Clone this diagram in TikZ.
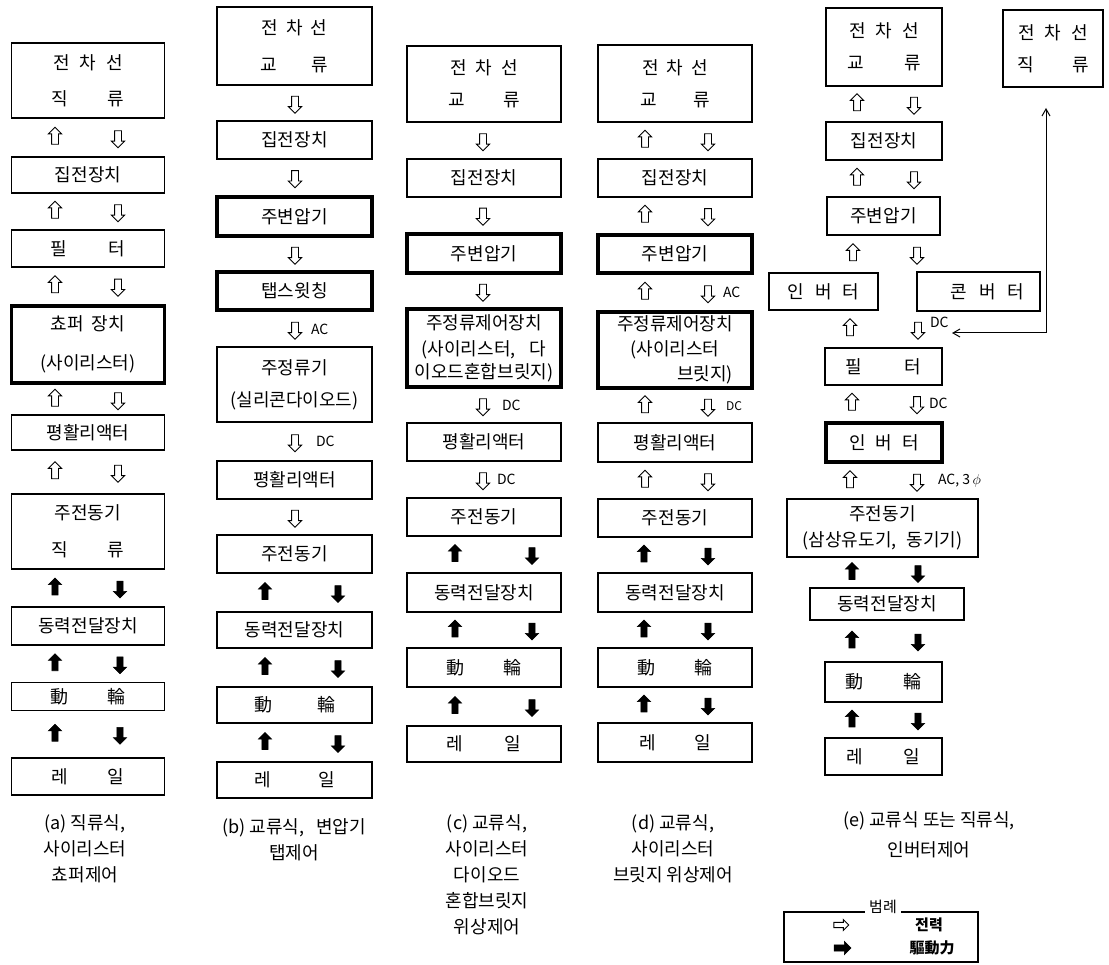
\documentclass[tikz,border=0pt]{standalone}
\usepackage{fontspec}
\setmainfont{Noto Sans CJK KR}
\usepackage{tikz}
\usetikzlibrary{calc,positioning,shapes.arrows,arrows.meta}

\newcommand{\hgap}[1]{\hspace{#1pt}}
\newcommand{\boxfont}{\fontsize{18}{22}\selectfont}
% hollow (power) and filled (drive) arrows between two boxes
\newcommand{\pwrud}[4]{%
  \coordinate (m) at ($(#1.south)!.5!(#2.north)$);
  \node[pup] (#1u) at (#3,0 |- m) {};
  \node[pdn] (#1d) at (#4,0 |- m) {};}
\newcommand{\pwrdn}[3]{%
  \coordinate (m) at ($(#1.south)!.5!(#2.north)$);
  \node[pdn] (#1d) at (#3,0 |- m) {};}
\newcommand{\drvud}[4]{%
  \coordinate (m) at ($(#1.south)!.5!(#2.north)$);
  \node[dup] (#1u) at (#3,0 |- m) {};
  \node[ddn] (#1d) at (#4,0 |- m) {};}

\begin{document}
\begin{tikzpicture}[x=1pt,y=-1pt,
    box/.style={draw,line width=1.1pt,minimum width=153pt,minimum height=37pt,
      inner sep=0pt,align=center,font=\boxfont},
    thickbox/.style={box,line width=3.2pt},
    pup/.style={single arrow,draw,fill=white,line width=.9pt,shape border rotate=90,
      minimum height=17pt,inner sep=3pt,single arrow head extend=3.2pt},
    pdn/.style={pup,shape border rotate=270},
    dup/.style={single arrow,draw,fill=black,line width=.6pt,shape border rotate=90,
      minimum height=17pt,inner sep=2.8pt,single arrow head extend=3.6pt},
    ddn/.style={dup,shape border rotate=270},
    lbl/.style={inner sep=0pt,font=\fontsize{14}{16}\selectfont},
    captext/.style={inner sep=0pt,align=center,font=\fontsize{18}{26}\selectfont}]
  \useasboundingbox (0,0) rectangle (1109,965);

  % (a)
  \node[box,minimum height=75pt] (a1) at (88,80.5) {전\hgap{10}차\hgap{10}선\\[14pt]직\hgap{39}류};
  \node[box,minimum height=36pt] (a2) at (88,175) {집전장치};
  \node[box] (a3) at (88,248.5) {필\hgap{41}터};
  \node[thickbox,minimum height=77pt] (a4) at (88,344.5) {쵸퍼\hgap{8}장치\\[17pt](사이리스터)};
  \node[box,minimum height=35pt] (a5) at (88,432.5) {평활리액터};
  \node[box,minimum height=75pt] (a6) at (88,531.5) {주전동기\\[15pt]직\hgap{40}류};
  \node[box,minimum height=38pt] (a7) at (88,626) {동력전달장치};
  \node[box,minimum height=28pt] (a8) at (88,696.5) {動\hgap{40}輪};
  \node[box] (a9) at (88,776.5) {레\hgap{40}일};
  \pwrud{a1}{a2}{55}{118}
  \pwrud{a2}{a3}{55}{118}
  \pwrud{a3}{a4}{55}{118}
  \pwrud{a4}{a5}{55}{118}
  \pwrud{a5}{a6}{55}{118}
  \drvud{a6}{a7}{55}{120}
  \drvud{a7}{a8}{55}{120}
  \drvud{a8}{a9}{55}{120}
  \node[captext] (capa) at (85,848.5) {(a) 직류식,\\사이리스터\\쵸퍼제어};

  % (b)
  \node[box,minimum width=155pt,minimum height=78pt] (b1) at (294.5,46) {전\hgap{8}차\hgap{8}선\\[15pt]교\hgap{34}류};
  \node[box,minimum width=155pt,minimum height=38pt] (b2) at (294.5,140) {집전장치};
  \node[thickbox,minimum width=155pt,minimum height=39pt] (b3) at (294.5,216.5) {주변압기};
  \node[thickbox,minimum width=155pt,minimum height=38pt] (b4) at (294.5,291) {탭스윗칭};
  \node[box,minimum width=155pt,minimum height=75pt] (b5) at (294.5,384.5) {주정류기\\[10pt](실리콘다이오드)};
  \node[box,minimum width=155pt,minimum height=38pt] (b6) at (294.5,480) {평활리액터};
  \node[box,minimum width=155pt,minimum height=38pt] (b7) at (294.5,554) {주전동기};
  \node[box,minimum width=155pt,minimum height=36pt] (b8) at (294.5,630) {동력전달장치};
  \node[box,minimum width=155pt,minimum height=36pt] (b9) at (294.5,705) {動\hgap{45}輪};
  \node[box,minimum width=155pt,minimum height=36pt] (b10) at (294.5,780) {레\hgap{47}일};
  \pwrdn{b1}{b2}{295}
  \pwrdn{b2}{b3}{295}
  \pwrdn{b3}{b4}{295}
  \pwrdn{b4}{b5}{295}
  \pwrdn{b5}{b6}{295}
  \pwrdn{b6}{b7}{295}
  \drvud{b7}{b8}{265}{338}
  \drvud{b8}{b9}{265}{338}
  \drvud{b9}{b10}{265}{338}
  \node[lbl,right=12pt of b4d] (bac) {AC};
  \node[lbl,right=17pt of b5d] (bdc) {DC};
  \node[captext] (capb) at (294,840) {(b) 교류식,\hgap{12}변압기\\탭제어};

  % (c)
  \node[box,minimum width=154pt,minimum height=76pt] (c1) at (484,84) {전\hgap{9}차\hgap{9}선\\[10pt]교\hgap{38}류};
  \node[box,minimum width=154pt,minimum height=38pt] (c2) at (484,178) {집전장치};
  \node[thickbox,minimum width=154pt,minimum height=39pt] (c3) at (484,253.5) {주변압기};
  \node[thickbox,minimum width=154pt,minimum height=78pt] (c4) at (484,348) {주정류제어장치\\[4pt](사이리스터,\hgap{14}다\\[1pt]이오드혼합브릿지)};
  \node[box,minimum width=154pt,minimum height=38pt] (c5) at (484,442) {평활리액터};
  \node[box,minimum width=154pt,minimum height=38pt] (c6) at (484,517) {주전동기};
  \node[box,minimum width=154pt,minimum height=39pt] (c7) at (484,592.5) {동력전달장치};
  \node[box,minimum width=154pt,minimum height=39pt] (c8) at (484,667.5) {動\hgap{39}輪};
  \node[box,minimum width=154pt,minimum height=36pt] (c9) at (484,744) {레\hgap{41}일};
  \pwrdn{c1}{c2}{483}
  \pwrdn{c2}{c3}{483}
  \pwrdn{c3}{c4}{483}
  \pwrdn{c4}{c5}{483}
  \pwrdn{c5}{c6}{483}
  \drvud{c6}{c7}{455}{532}
  \drvud{c7}{c8}{455}{532}
  \drvud{c8}{c9}{455}{532}
  \node[lbl,right=15pt of c4d] (cdc1) {DC};
  \node[lbl,right=10pt of c5d] (cdc2) {DC};
  \node[captext] (capc) at (487,875) {(c) 교류식,\\사이리스터\\다이오드\\혼합브릿지\\위상제어};

  % (d)
  \node[box,minimum width=154pt,minimum height=77pt] (d1) at (675,83.5) {전\hgap{8}차\hgap{8}선\\[10pt]교\hgap{36}류};
  \node[box,minimum width=154pt,minimum height=38pt] (d2) at (675,178) {집전장치};
  \node[thickbox,minimum width=154pt,minimum height=38pt] (d3) at (675,254) {주변압기};
  \node[thickbox,minimum width=154pt,minimum height=76pt] (d4) at (675,350) {주정류제어장치\\[3pt](사이리스터\\[3pt]\hspace*{60pt}브릿지)};
  \node[box,minimum width=154pt,minimum height=39pt] (d5) at (675,442.5) {평활리액터};
  \node[box,minimum width=154pt,minimum height=38pt] (d6) at (675,518) {주전동기};
  \node[box,minimum width=154pt,minimum height=39pt] (d7) at (675,592.5) {동력전달장치};
  \node[box,minimum width=154pt,minimum height=39pt] (d8) at (675,667.5) {動\hgap{39}輪};
  \node[box,minimum width=154pt,minimum height=39pt] (d9) at (675,742.5) {레\hgap{38}일};
  \pwrud{d1}{d2}{645}{708}
  \pwrud{d2}{d3}{645}{708}
  \pwrud{d3}{d4}{645}{708}
  \pwrud{d4}{d5}{645}{708}
  \pwrud{d5}{d6}{645}{708}
  \drvud{d6}{d7}{644}{708}
  \drvud{d7}{d8}{644}{708}
  \drvud{d8}{d9}{644}{708}
  \node[lbl,right=11pt of d3d] (dac) {AC};
  \node[lbl,right=14pt of d4d,font=\fontsize{12}{14}\selectfont] (ddc) {DC};
  \node[captext] (capd) at (673,849) {(d) 교류식,\\사이리스터\\브릿지 위상제어};

  % (e)
  \node[box,minimum width=116pt,minimum height=78pt] (e1) at (884,47) {전\hgap{10}차\hgap{10}선\\[10pt]교\hgap{40}류};
  \node[box,line width=2pt,minimum width=100pt,minimum height=77pt] (eD) at (1053,48.5) {전\hgap{10}차\hgap{10}선\\[10pt]직\hgap{38}류};
  \node[box,minimum width=116pt,minimum height=38pt] (e2) at (884,141) {집전장치};
  \node[box,minimum width=113pt,minimum height=38pt] (e3) at (883.5,216) {주변압기};
  \node[box,minimum width=109pt,minimum height=37pt] (eI) at (823.5,291.5) {인\hgap{11}버\hgap{11}터};
  \node[box,minimum width=123pt,minimum height=39pt] (eC) at (978.5,291.5) {\hspace*{18pt}콘\hgap{12}버\hgap{12}터};
  \node[box,minimum width=117pt,minimum height=37pt] (e5) at (883.5,366.5) {필\hgap{43}터};
  \node[thickbox,minimum width=116pt,minimum height=39pt] (e6) at (884,442.5) {인\hgap{10}버\hgap{10}터};
  \node[box,minimum width=191pt,minimum height=58pt] (e7) at (882.5,528) {주전동기\\[4pt](삼상유도기,\hgap{10}동기기)};
  \node[box,minimum width=154pt,minimum height=32pt] (e8) at (887,604) {동력전달장치};
  \node[box,minimum width=117pt,minimum height=40pt] (e9) at (883.5,682) {動\hgap{40}輪};
  \node[box,minimum width=117pt,minimum height=37pt] (e10) at (883.5,756.5) {레\hgap{40}일};
  \pwrud{e1}{e2}{857}{914}
  \pwrud{e2}{e3}{857}{914}
  \pwrud{e3}{eI}{853}{917}
  \pwrud{eI}{e5}{850}{918}
  \pwrud{e5}{e6}{852}{917}
  \pwrud{e6}{e7}{850}{917}
  \drvud{e7}{e8}{852}{918}
  \drvud{e8}{e9}{852}{918}
  \drvud{e9}{e10}{852}{918}
  \node[lbl,right=8pt of eId,yshift=7pt] (edc1) {DC};
  \node[lbl,right=8pt of e5d] (edc2) {DC};
  \node[lbl,right=17pt of e6d] (eac) {AC, 3\,$\phi$};
  \coordinate (dcup) at ($(eD.south)+(-7,20)$);
  \coordinate (dcin) at (952,333);
  \draw[line width=1pt,{Straight Barb[length=7pt,width=8pt]}-{Straight Barb[length=7pt,width=8pt]}]
    (dcup) |- (dcin);
  \node[captext,font=\fontsize{18}{30}\selectfont] (cape) at (929,835) {(e) 교류식 또는 직류식,\\인버터제어};

  % legend
  \node[draw,line width=1.1pt,minimum width=194pt,minimum height=50pt] (lgd) at (881,937) {};
  \node[fill=white,inner xsep=4pt,inner ysep=1pt,font=\fontsize{15}{17}\selectfont] (lgt) at (883,907) {범례};
  \node[pup,shape border rotate=0,minimum height=15pt,inner sep=2.2pt,single arrow head extend=2.8pt] (lgp) at (840,925) {};
  \node[dup,shape border rotate=0,minimum height=17pt] (lgf) at (841,948) {};
  \node[font=\bfseries\fontsize{15}{17}\selectfont,inner sep=0pt] (lgpt) at (929,925) {전력};
  \node[font=\bfseries\fontsize{15}{17}\selectfont,inner sep=0pt] (lgft) at (932,948) {驅動力};
\end{tikzpicture}
\end{document}
